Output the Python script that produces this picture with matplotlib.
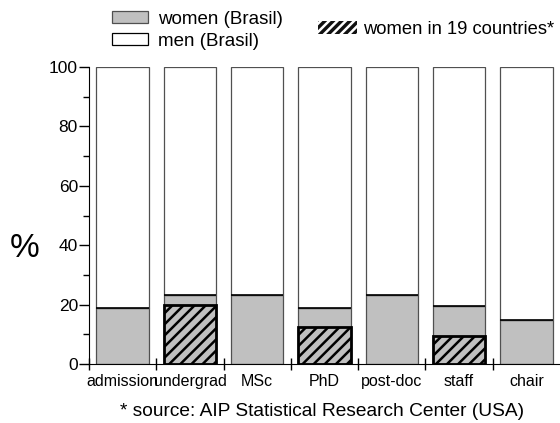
import numpy as np
import matplotlib.pyplot as plt
from matplotlib.patches import Patch

plt.rc('font', family='Liberation Sans', size=12)
plt.rcParams['hatch.linewidth'] = 1.8

#===================
# Data
#===================
categories = ['admission', 'undergrad', 'MSc', 'PhD', 'post-doc', 'staff', 'chair']
women_br   = [18.7, 23.4, 23.3, 19.0, 23.3, 19.6, 14.9]
women_19   = [np.nan, 19.8, np.nan, 12.6, np.nan, 9.5, np.nan]
#===================

women_br = np.array(women_br)
women_19 = np.array(women_19)
men_br   = 100. - women_br
x = np.arange(len(categories)) + 0.5
w = 0.78

fig = plt.figure(figsize=(5.6, 4.23), dpi=100)
ax = fig.add_axes([0.159, 0.1395, 0.841, 0.702])

ax.bar(x, women_br, w, color='#c0c0c0', edgecolor='#505050', lw=0.9)
ax.bar(x, men_br, w, bottom=women_br, color='white', edgecolor='#505050', lw=0.9)
ax.hlines(women_br, x - w/2, x + w/2, color='k', lw=1.2)
ok = ~np.isnan(women_19)
ax.bar(x[ok], women_19[ok], w, color='#c0c0c0', edgecolor='k', lw=2.0, hatch='///')

ax.set_xlim(0, 7)
ax.set_ylim(0, 100)
ax.spines['top'].set_visible(False)
ax.spines['right'].set_visible(False)
ax.spines['left'].set_bounds(0, 100)

ax.set_xticks(np.arange(0, 7))
ax.set_xticklabels([])
ax.set_xticks(x, minor=True)
ax.set_xticklabels(categories, minor=True, fontsize=11.5)
ax.tick_params(axis='x', which='major', direction='inout', length=8, width=1)
ax.tick_params(axis='x', which='minor', length=0, pad=7)

ax.set_yticks(np.arange(0, 101, 20))
ax.set_yticks(np.arange(10, 100, 20), minor=True)
ax.tick_params(axis='y', which='major', length=7, width=1, labelsize=12.5, pad=1)
ax.tick_params(axis='y', which='minor', length=4, width=1)
ax.set_ylabel('%', fontsize=24, rotation=0, va='center', ha='center')
ax.yaxis.set_label_coords(-64/471, 0.39)

h1 = [Patch(facecolor='#c0c0c0', edgecolor='#505050', lw=0.9),
      Patch(facecolor='white', edgecolor='k', lw=0.9)]
fig.legend(h1, ['women (Brasil)', 'men (Brasil)'], loc='upper left',
           bbox_to_anchor=(112/560, 1 - 11/423), frameon=False, borderpad=0,
           borderaxespad=0, handlelength=1.92, handleheight=0.6, handletextpad=0.53,
           labelspacing=0.25, fontsize=13.5)
h2 = [Patch(facecolor='#111111', edgecolor='white', lw=0, hatch='////')]
fig.legend(h2, ['women in 19 countries*'], loc='upper left',
           bbox_to_anchor=(318/560, 1 - 21/423), frameon=False, borderpad=0,
           borderaxespad=0, handlelength=2.1, handleheight=0.65, handletextpad=0.33,
           fontsize=13.2)

fig.text(322/560, 1 - 411/423, '* source: AIP Statistical Research Center (USA)',
         ha='center', va='center', fontsize=13.8)

plt.savefig('out.png', dpi=100)
